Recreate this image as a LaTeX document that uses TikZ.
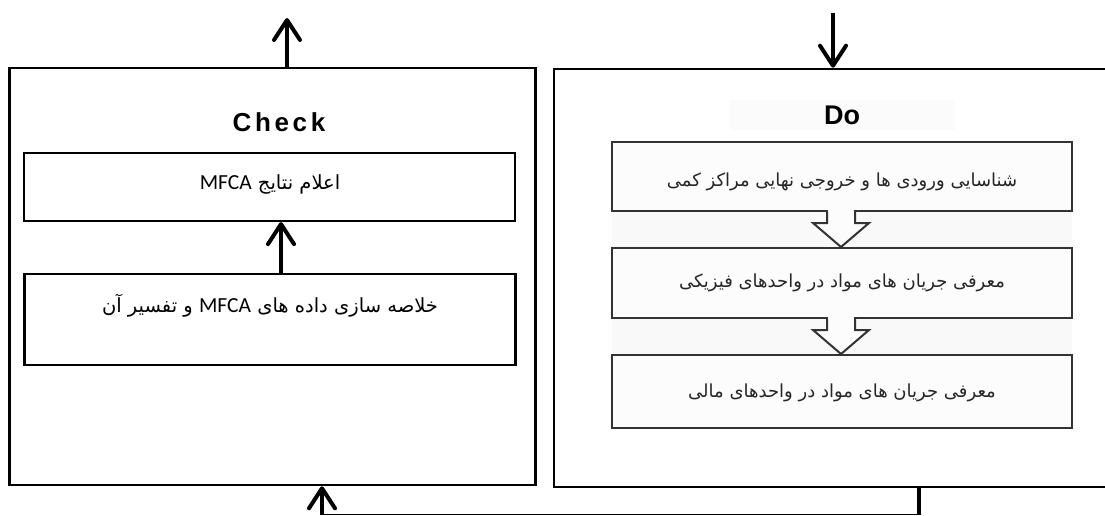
\documentclass[tikz,border=0pt]{standalone}
\usepackage{fontspec}
\setmainfont{Liberation Sans}
\newfontfamily\arabicfont[Script=Arabic]{DejaVu Sans}
\newfontfamily\latinfont{Carlito}
\newfontfamily\checkfont[LetterSpace=14]{Liberation Sans}
\TeXXeTstate=1
\usetikzlibrary{arrows.meta}
\begin{document}
\begin{tikzpicture}[x=1pt,y=-1pt,
  outerbox/.style={draw, line width=2.6pt, rectangle, inner sep=0pt},
  chkbox/.style={draw, line width=2.2pt, rectangle, inner sep=0pt, minimum width=491pt},
  dobox/.style={draw=black!80, line width=2pt, fill=black!1, rectangle, inner sep=0pt, minimum width=460pt},
  arr/.style={line width=4pt, -{Straight Barb[length=20pt,width=26pt,round]}},
  fatext/.style={inner sep=0pt, font=\arabicfont\fontsize{19.5}{22}\selectfont},
  dotext/.style={inner sep=0pt, text=black!85, font=\arabicfont\fontsize{18}{21}\selectfont},
  blockarrow/.style={draw=black!80, line width=2pt, line join=miter, fill=black!1},
  strip/.style={fill=black!2.5}
]
\clip (0,0) rectangle (1105,516);
\fill[white] (0,0) rectangle (1105,516);

% ---------- Check panel ----------
\node[outerbox, minimum width=526pt, minimum height=417pt] (L) at (272.5,276.5) {};
\node[inner sep=0pt, font=\checkfont\bfseries\fontsize{26}{30}\selectfont] (chk) at (279,122) {Check};
\node[chkbox, minimum height=68pt] (c1) at (269.5,187) {};
\node[chkbox, minimum height=91pt] (c2) at (270,319.5) {};
\node[fatext] (t1) at (270,184) {\beginR اعلام نتایج \beginL{\latinfont\fontsize{21.5}{24}\selectfont MFCA}\endL\endR};
\node[fatext] (t2) at (270,306) {\beginR خلاصه سازی داده های \beginL{\latinfont\fontsize{21.5}{24}\selectfont MFCA}\endL{} و تفسیر آن\endR};
\coordinate (inarr) at (281,0);
\draw[arr] (c2.north -| inarr) -- (c1.south -| inarr);
\coordinate (outC) at (287,18);
\draw[arr] (L.north -| outC) -- (outC);

% ---------- Do panel ----------
\node[outerbox, minimum width=561pt, minimum height=418pt] (R) at (834.5,278) {};
\fill[black!1.5] (730,100) rectangle (955,130);
\node[inner sep=0pt, font=\bfseries\fontsize{27}{30}\selectfont] (do) at (842,115) {Do};
\fill[strip] (612,211) rectangle (1072,248);
\fill[strip] (612,318) rectangle (1072,355);
\node[dobox, minimum height=69pt] (dA) at (842,176.5) {};
\node[dobox, minimum height=70pt] (dB) at (842,283) {};
\node[dobox, minimum height=73pt] (dC) at (842,391.5) {};
\node[dotext] (tA) at (842,182) {\beginR شناسایی ورودی ها و خروجی نهایی مراکز کمی\endR};
\node[dotext] (tB) at (842,283) {\beginR معرفی جریان های مواد در واحدهای فیزیکی\endR};
\node[dotext] (tC) at (842,393) {\beginR معرفی جریان های مواد در واحدهای مالی\endR};
% block arrows
\coordinate (ba) at (841,0);
\coordinate (a1) at (dA.south -| ba);
\coordinate (a2) at (dB.south -| ba);
\fill[black!1] ([shift={(-13,-2)}]a1) rectangle ([shift={(13,2)}]a1);
\filldraw[blockarrow] ([shift={(-14,0)}]a1) -- ++(0,11) -- ++(-14,0) -- (dB.north -| ba) -- ([shift={(28,11)}]a1) -- ++(-14,0) -- ++(0,-11);
\fill[black!1] ([shift={(-13,-2)}]a2) rectangle ([shift={(13,2)}]a2);
\filldraw[blockarrow] ([shift={(-14,0)}]a2) -- ++(0,11) -- ++(-14,0) -- (dC.north -| ba) -- ([shift={(28,11)}]a2) -- ++(-14,0) -- ++(0,-11);
\coordinate (inD) at (833,13);
\draw[arr] (inD) -- (R.north -| inD);

% ---------- feedback line ----------
\coordinate (fbR) at (919,514.5);
\coordinate (fbL) at (322,514.5);
\draw[line width=3.5pt] (R.south -| fbR) -- (fbR);
\draw[line width=1.5pt] ([xshift=1.75pt]fbR) -- (fbL);
\draw[arr] (fbL) -- (L.south -| fbL);
\end{tikzpicture}
\end{document}
